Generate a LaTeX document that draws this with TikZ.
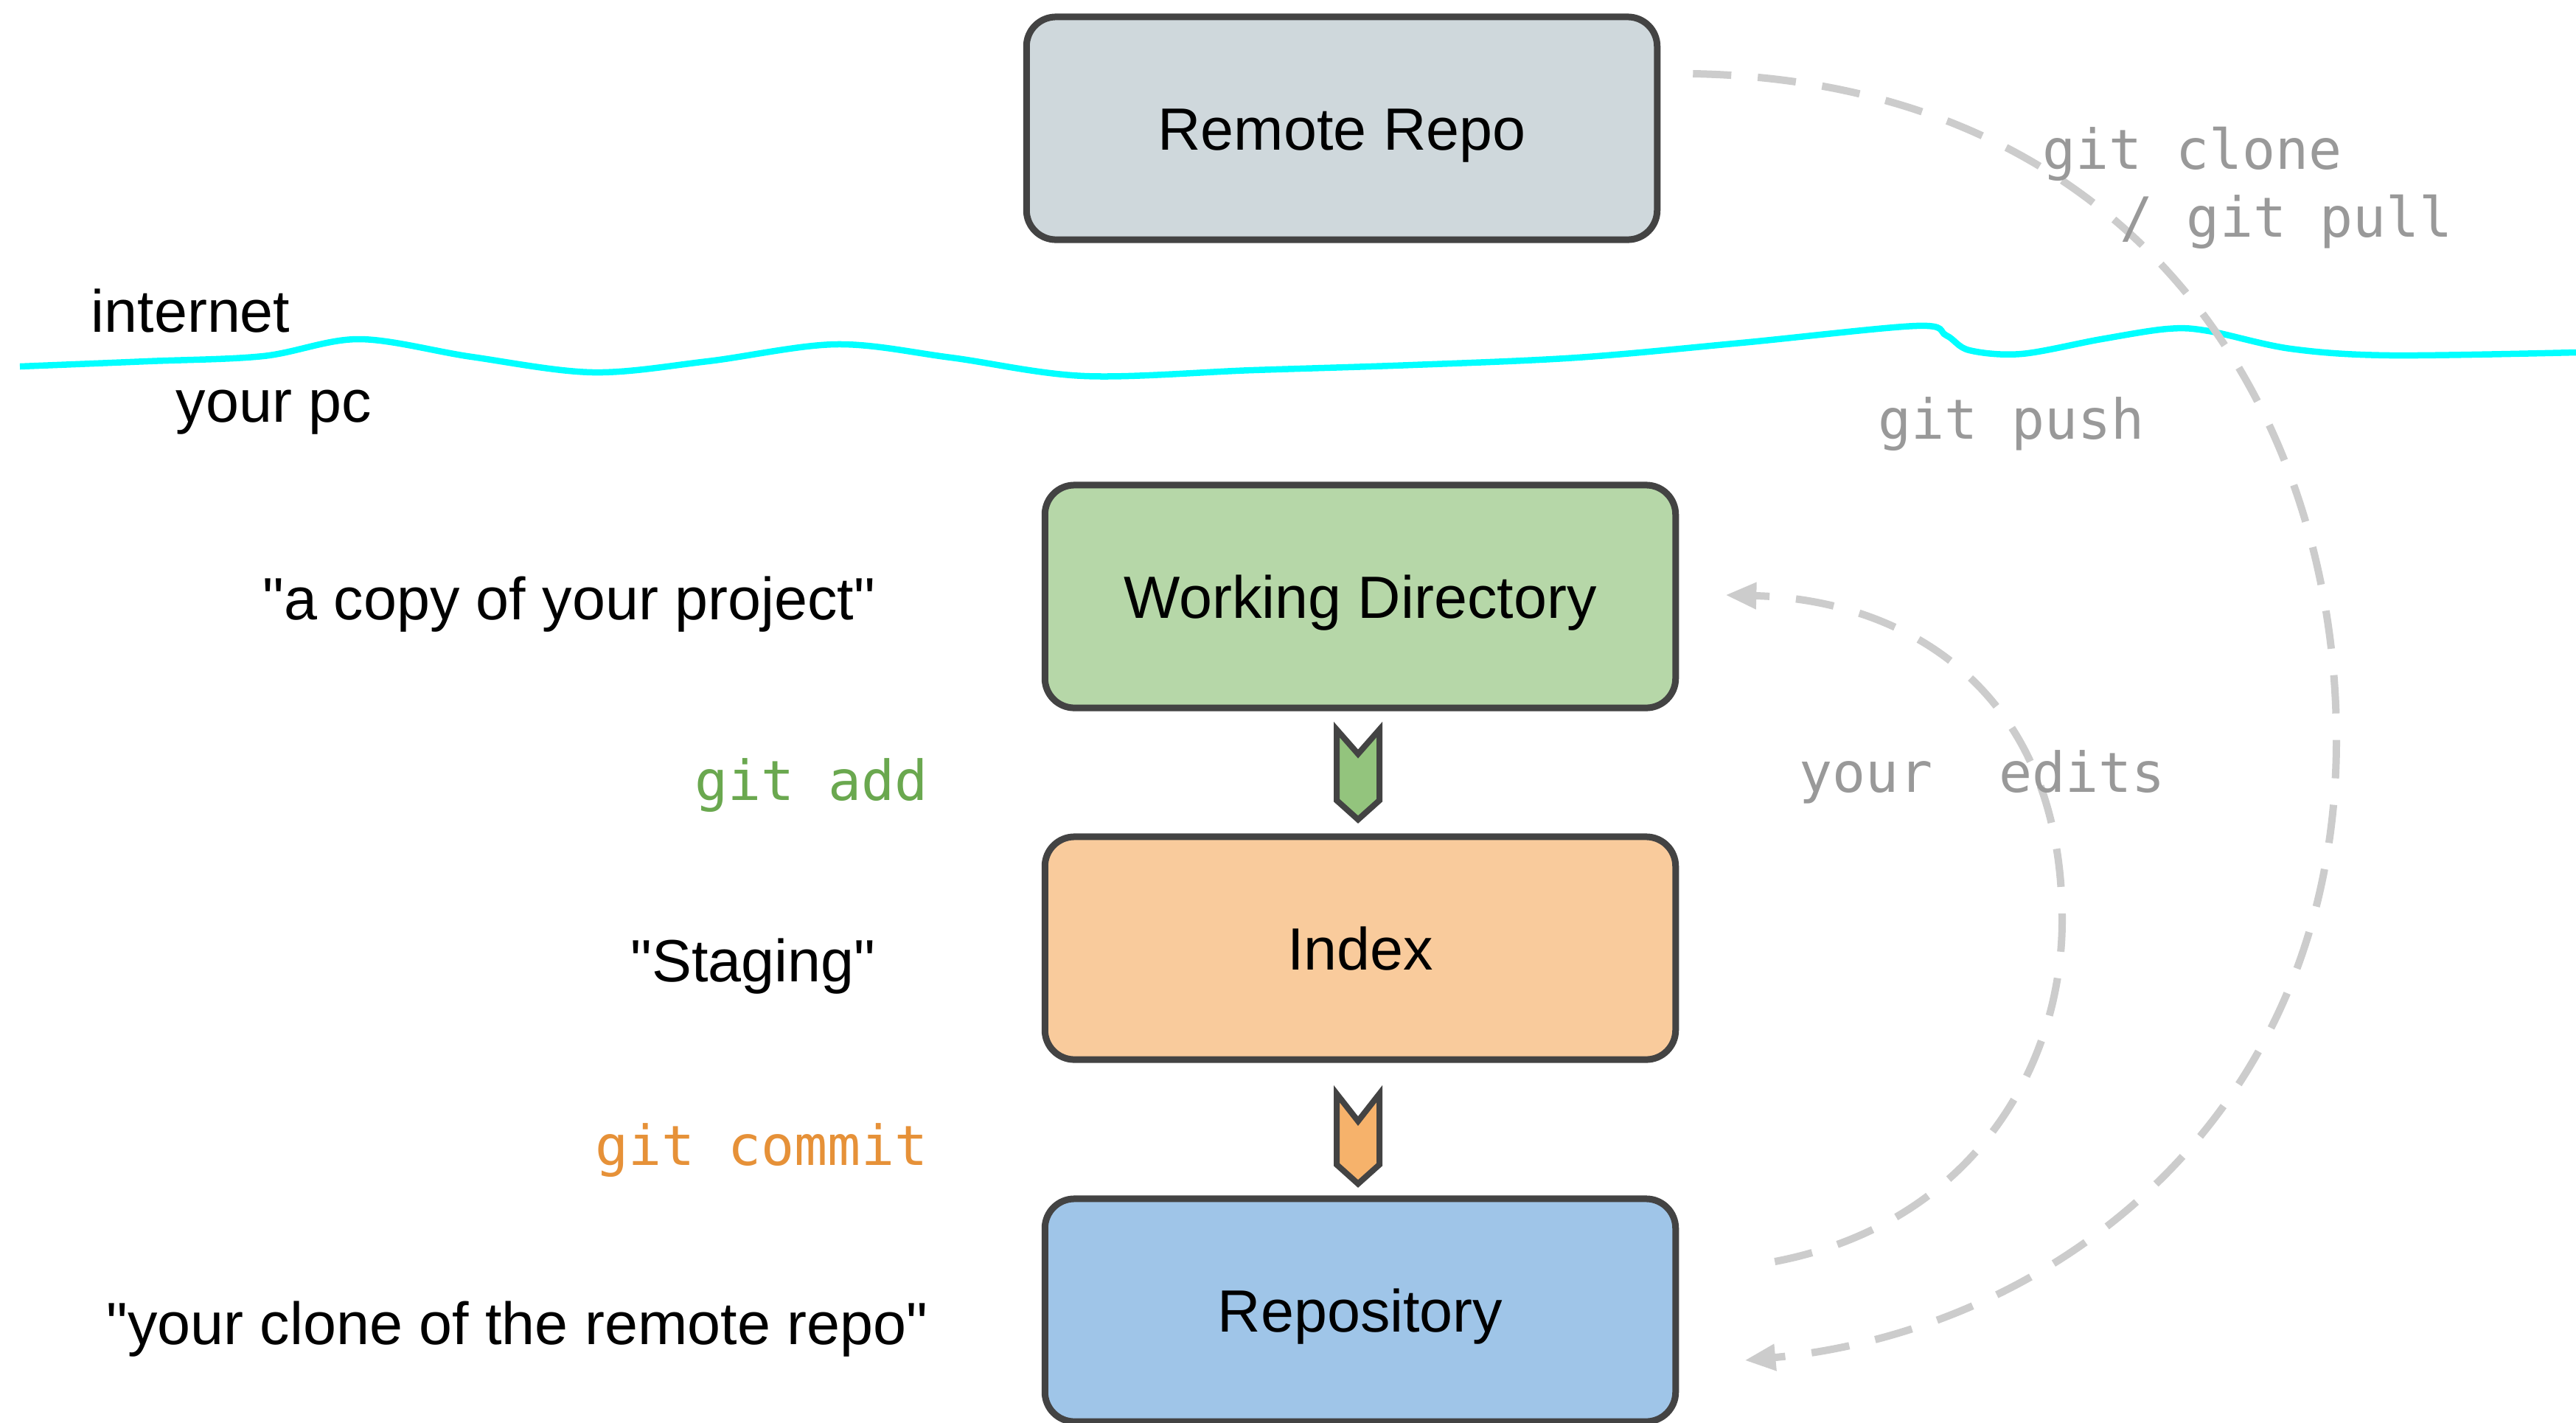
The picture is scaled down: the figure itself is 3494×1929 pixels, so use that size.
\documentclass[tikz,border=0pt]{standalone}
\usepackage{fontspec}
\setmainfont{Liberation Sans}
\setmonofont{DejaVu Sans Mono}
\usetikzlibrary{arrows.meta,calc}

\definecolor{edge}{HTML}{434343}
\definecolor{remotefill}{HTML}{CFD8DC}
\definecolor{wdfill}{HTML}{B6D7A8}
\definecolor{idxfill}{HTML}{F9CB9C}
\definecolor{repofill}{HTML}{9FC5E8}
\definecolor{addfill}{HTML}{93C47D}
\definecolor{commitfill}{HTML}{F6B26B}
\definecolor{addtext}{HTML}{6AA84F}
\definecolor{committext}{HTML}{E69138}
\definecolor{cmdgrey}{HTML}{999999}
\definecolor{flowgrey}{HTML}{CCCCCC}
\definecolor{netline}{HTML}{00FFFF}

\newcommand{\qt}[1]{\textquotedbl#1\textquotedbl}

\tikzset{
  area/.style={draw=edge, line width=0.09cm, rounded corners=0.4cm,
    minimum width=8.55cm, minimum height=3.02cm, inner sep=0pt,
    text height=16.5pt, text depth=0pt,
    font=\fontsize{23}{28}\selectfont},
  note/.style={inner sep=0pt, text=black, font=\fontsize{23}{28}\selectfont},
  cmd/.style={inner sep=0pt, font=\fontsize{21.3}{26}\selectfont\ttfamily},
  chevline/.style={draw=edge, line width=0.08cm, line join=miter},
  flow/.style={draw=flowgrey, line width=0.1cm, dash pattern=on 0.52cm off 0.36cm,
    -{Triangle[length=0.42cm, width=0.34cm, fill=flowgrey]}},
  boundary/.style={draw=netline, line width=0.085cm}
}

\begin{document}
\begin{tikzpicture}[x=0.01cm, y=-0.01cm]
\useasboundingbox (0,0) rectangle (3494,1929);
\clip (0,0) rectangle (3494,1929);
\fill[white] (0,0) rectangle (3494,1929);

% internet / local boundary
\draw[boundary] plot[smooth, tension=0.55] coordinates {
  (27,497) (200,490) (357,483) (487,460) (640,484) (804,505) (960,490)
  (1134,467) (1290,485) (1471,510) (1700,502) (1916,495) (2139,485)
  (2362,465) (2599,442) (2640,455) (2671,475) (2742,480) (2850,460)
  (2940,446) (2996,449) (3107,473) (3242,482) (3494,478)};

% stages
\node[area, fill=remotefill] (remote) at (1820,174) {Remote Repo};
\node[area, fill=wdfill] (wd) at (1845,809) {Working Directory};
\node[area, fill=idxfill] (idx) at (1845,1286) {Index};
\node[area, fill=repofill] (repo) at (1845,1777) {Repository};

% chevrons between stages
\coordinate (addmid) at ($(wd.south)!0.5!(idx.north)+(-3,4)$);
\coordinate (commitmid) at ($(idx.south)!0.5!(repo.north)+(-3,14)$);
\draw[chevline, fill=addfill]
  ([shift={(-29,-62)}]addmid) -- ([shift={(0,-29)}]addmid) -- ([shift={(29,-62)}]addmid)
  -- ([shift={(29,34)}]addmid) -- ([shift={(0,60)}]addmid) -- ([shift={(-29,34)}]addmid) -- cycle;
\draw[chevline, fill=commitfill]
  ([shift={(-29,-62)}]commitmid) -- ([shift={(0,-25)}]commitmid) -- ([shift={(29,-62)}]commitmid)
  -- ([shift={(29,34)}]commitmid) -- ([shift={(0,60)}]commitmid) -- ([shift={(-29,34)}]commitmid) -- cycle;

% clone / pull / push flow
\draw[flow] ([shift={(44,-74)}]remote.east)
  .. controls (2897,111) and (3169,557) .. (3169,1003)
  .. controls (3169,1515) and (2785,1805) .. ([shift={(89,68)}]repo.east);

% edits flow
\draw[flow] ([shift={(130,-66)}]repo.east)
  .. controls (2674,1660) and (2797,1448) .. (2797,1248)
  .. controls (2797,936) and (2585,813) .. ([shift={(63,-2)}]wd.east);

% side labels
\node[note, anchor=base west] (inet) at (123,450) {internet};
\node[note, anchor=base west] (pc) at (238,572) {your pc};
\node[note, anchor=base east] (wdnote) at (1188,840) {\qt{a copy of your project}};
\node[note, anchor=base east] (idxnote) at (1188,1331) {\qt{Staging}};
\node[note, anchor=base east] (reponote) at (1259,1823) {\qt{your clone of the remote repo}};

% commands
\node[cmd, text=addtext, anchor=base east] (addcmd) at (1259,1085) {git add};
\node[cmd, text=committext, anchor=base east] (commitcmd) at (1259,1580) {git commit};
\node[cmd, text=cmdgrey, anchor=base west] (clonecmd) at (2770,229) {git clone};
\node[cmd, text=cmdgrey, anchor=base west] (pullcmd) at (2875,321) {/ git pull};
\node[cmd, text=cmdgrey, anchor=base west] (pushcmd) at (2547,595) {git push};
\node[cmd, text=cmdgrey, anchor=base west] (editcmd) at (2440,1074) {your\ \ edits};
\end{tikzpicture}
\end{document}
